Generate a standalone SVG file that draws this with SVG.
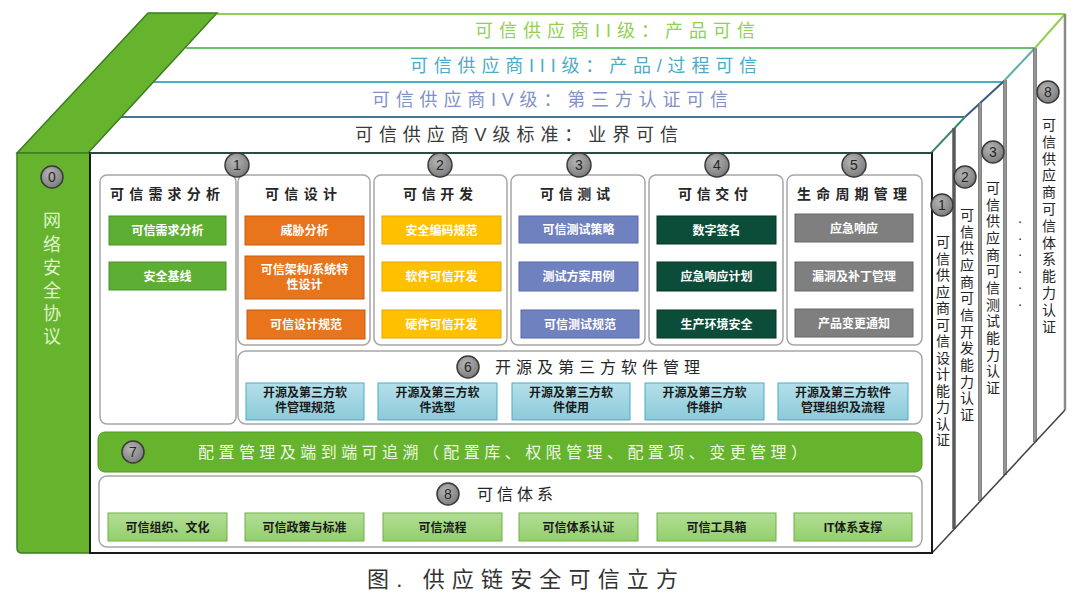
<svg xmlns="http://www.w3.org/2000/svg" width="1080" height="597" viewBox="0 0 1080 597">
<defs>
<style>
.f{font-family:"Liberation Sans","Noto Sans CJK SC",sans-serif}
.lay{font-size:18px;font-family:"Liberation Sans","Noto Sans CJK SC",sans-serif}
.ct{font-size:14px;font-weight:bold;fill:#262626;font-family:"Liberation Sans","Noto Sans CJK SC",sans-serif}
.bx{font-size:12px;font-weight:bold;fill:#ffffff;text-anchor:middle;font-family:"Liberation Sans","Noto Sans CJK SC",sans-serif}
.bd{font-size:12px;font-weight:bold;fill:#1a1a1a;text-anchor:middle;font-family:"Liberation Sans","Noto Sans CJK SC",sans-serif}
.vt{font-size:14px;fill:#262626;text-anchor:middle;font-family:"Liberation Sans","Noto Sans CJK SC",sans-serif}
.num{font-size:14px;fill:#262626;text-anchor:middle;font-family:"Liberation Sans","Noto Sans CJK SC",sans-serif}
.cir{fill:url(#cg);stroke:#3a3a3a;stroke-width:1.5}
.pan{fill:#ffffff;stroke:#a6a6a6;stroke-width:1.5}
.gA{fill:#5daf34;stroke:#4a9128;stroke-width:1}
.gB{fill:#e8741c;stroke:#c55a11;stroke-width:1}
.gC{fill:#ffc000;stroke:#e3a800;stroke-width:1}
.gD{fill:#7081c0;stroke:#5869a8;stroke-width:1}
.gE{fill:#0b4d38;stroke:#063524;stroke-width:1}
.gF{fill:#7f7f7f;stroke:#666666;stroke-width:1}
.g6{fill:url(#tg);stroke:#4bacc6;stroke-width:1}
.g8{fill:url(#lg);stroke:#70b047;stroke-width:1}
.div{stroke:#5a5a5a;stroke-width:3.5;fill:none}
.divi{stroke:#bdbdbd;stroke-width:1.2;fill:none}
</style>
<radialGradient id="cg" cx="0.4" cy="0.35" r="0.7">
<stop offset="0" stop-color="#b5b5b5"/>
<stop offset="1" stop-color="#7a7a7a"/>
</radialGradient>
<linearGradient id="tg" x1="0" y1="0" x2="0" y2="1">
<stop offset="0" stop-color="#b4e0ea"/>
<stop offset="1" stop-color="#8ccad9"/>
</linearGradient>
<linearGradient id="lg" x1="0" y1="0" x2="0" y2="1">
<stop offset="0" stop-color="#b2dd95"/>
<stop offset="1" stop-color="#93cf6d"/>
</linearGradient>
</defs>
<rect x="0" y="0" width="1080" height="597" fill="#ffffff"/>

<g id="connectors">
<!-- layer top edges -->
<line x1="217" y1="14" x2="1065" y2="14" stroke="#92d050" stroke-width="2"/>
<line x1="186" y1="48" x2="1035" y2="48" stroke="#6cc06a" stroke-width="2"/>
<line x1="153" y1="82" x2="1003" y2="82" stroke="#4bacc6" stroke-width="2"/>
<line x1="119" y1="117" x2="965" y2="117" stroke="#3f7890" stroke-width="2"/>
<!-- right slant -->
<line x1="1065" y1="14" x2="1035" y2="48" stroke="#92d050" stroke-width="2"/>
<line x1="1035" y1="48" x2="1003" y2="82" stroke="#5fb0a8" stroke-width="2"/>
<line x1="1003" y1="82" x2="965" y2="117" stroke="#3d5a86" stroke-width="2"/>
<line x1="965" y1="117" x2="931" y2="153" stroke="#3f8a6a" stroke-width="2"/>
<!-- right panel dividers -->
<line class="div" x1="954" y1="128" x2="954" y2="529"/>
<line class="div" x1="980" y1="103" x2="980" y2="501"/>
<line class="divi" x1="980" y1="103" x2="980" y2="501"/>
<line class="div" x1="1005" y1="80" x2="1005" y2="475"/>
<line class="divi" x1="1005" y1="80" x2="1005" y2="475"/>
<line class="div" x1="1035" y1="48" x2="1035" y2="442"/>
<line class="divi" x1="1035" y1="48" x2="1035" y2="442"/>
<line x1="1065" y1="14" x2="1065" y2="410" stroke="#8a8a8a" stroke-width="2.5"/>
<line x1="932" y1="553" x2="1065" y2="410" stroke="#404040" stroke-width="1.5"/>
</g>

<g id="layer2"><text class="lay" x="475" y="37" textLength="280" lengthAdjust="spacing" fill="#92d050">可信供应商II级：产品可信</text></g>
<g id="layer3"><text class="lay" x="410" y="72" textLength="347" lengthAdjust="spacing" fill="#4bacc6">可信供应商III级：产品/过程可信</text></g>
<g id="layer4"><text class="lay" x="372" y="106" textLength="356" lengthAdjust="spacing" fill="#8092c6">可信供应商IV级：第三方认证可信</text></g>
<g id="layer5"><text class="lay" x="355" y="141" textLength="323" lengthAdjust="spacing" fill="#3a3a3a">可信供应商V级标准：业界可信</text></g>

<g id="node0">
<polygon points="17,153 88,153 217,13 148,13" fill="#66b32e" stroke="#3c7d22" stroke-width="1.5"/>
<path d="M17,153 H90 V553 H22 Q17,553 17,548 Z" fill="#66b32e" stroke="#3c7d22" stroke-width="1.5"/>
<circle class="cir" cx="52" cy="177" r="11"/>
<text class="num" x="52" y="182">0</text>
<text class="f" font-size="18" fill="#dff3c8" text-anchor="middle">
<tspan x="52" y="227">网</tspan><tspan x="52" y="251">络</tspan><tspan x="52" y="274">安</tspan><tspan x="52" y="297">全</tspan><tspan x="52" y="320">协</tspan><tspan x="52" y="343">议</tspan>
</text>
</g>

<g id="frontbox">
<rect x="90" y="153" width="842" height="400" fill="#ffffff" stroke="#1a1a1a" stroke-width="2"/>
<line x1="90" y1="153" x2="932" y2="153" stroke="#2c4c3c" stroke-width="2"/>
</g>

<g id="colA">
<rect class="pan" x="100" y="175" width="136" height="249" rx="7"/>
<text class="ct" x="110" y="199" textLength="110" lengthAdjust="spacing">可信需求分析</text>
<rect class="gA" x="109" y="216" width="117" height="29"/><text class="bx" x="167.5" y="235">可信需求分析</text>
<rect class="gA" x="109" y="262" width="117" height="28"/><text class="bx" x="167.5" y="280.5">安全基线</text>
</g>

<g id="colB">
<rect class="pan" x="238" y="175" width="132" height="170" rx="7"/>
<text class="ct" x="265" y="199" textLength="72" lengthAdjust="spacing">可信设计</text>
<rect class="gB" x="245" y="216" width="119" height="29"/><text class="bx" x="304.5" y="235">威胁分析</text>
<rect class="gB" x="245" y="256" width="119" height="43"/><text class="bx" x="304.5" y="274">可信架构/系统特</text><text class="bx" x="304.5" y="289">性设计</text>
<rect class="gB" x="247" y="310" width="118" height="29"/><text class="bx" x="306" y="329">可信设计规范</text>
</g>

<g id="colC">
<rect class="pan" x="374" y="175" width="133" height="170" rx="7"/>
<text class="ct" x="403" y="199" textLength="70" lengthAdjust="spacing">可信开发</text>
<rect class="gC" x="382" y="216" width="119" height="28"/><text class="bx" x="441.5" y="234.5">安全编码规范</text>
<rect class="gC" x="382" y="262" width="119" height="29"/><text class="bx" x="441.5" y="281">软件可信开发</text>
<rect class="gC" x="382" y="310" width="119" height="28"/><text class="bx" x="441.5" y="328.5">硬件可信开发</text>
</g>

<g id="colD">
<rect class="pan" x="511" y="175" width="134" height="170" rx="7"/>
<text class="ct" x="540" y="199" textLength="70" lengthAdjust="spacing">可信测试</text>
<rect class="gD" x="519" y="216" width="119" height="27"/><text class="bx" x="578.5" y="234">可信测试策略</text>
<rect class="gD" x="519" y="262" width="119" height="29"/><text class="bx" x="578.5" y="281">测试方案用例</text>
<rect class="gD" x="521" y="310" width="118" height="28"/><text class="bx" x="580" y="328.5">可信测试规范</text>
</g>

<g id="colE">
<rect class="pan" x="649" y="175" width="134" height="170" rx="7"/>
<text class="ct" x="678" y="199" textLength="70" lengthAdjust="spacing">可信交付</text>
<rect class="gE" x="657" y="216" width="119" height="28"/><text class="bx" x="716.5" y="234.5">数字签名</text>
<rect class="gE" x="657" y="262" width="119" height="29"/><text class="bx" x="716.5" y="281">应急响应计划</text>
<rect class="gE" x="657" y="310" width="119" height="28"/><text class="bx" x="716.5" y="328.5">生产环境安全</text>
</g>

<g id="colF">
<rect class="pan" x="787" y="175" width="135" height="170" rx="7"/>
<text class="ct" x="797" y="199" textLength="110" lengthAdjust="spacing">生命周期管理</text>
<rect class="gF" x="795" y="214" width="118" height="28"/><text class="bx" x="854" y="232.5">应急响应</text>
<rect class="gF" x="795" y="262" width="118" height="29"/><text class="bx" x="854" y="281">漏洞及补丁管理</text>
<rect class="gF" x="795" y="309" width="118" height="28"/><text class="bx" x="854" y="327.5">产品变更通知</text>
</g>

<g id="badges">
<circle class="cir" cx="237" cy="165" r="12"/><text class="num" x="237" y="170">1</text>
<circle class="cir" cx="440" cy="165" r="12"/><text class="num" x="440" y="170">2</text>
<circle class="cir" cx="579" cy="165" r="12"/><text class="num" x="579" y="170">3</text>
<circle class="cir" cx="717" cy="165" r="12"/><text class="num" x="717" y="170">4</text>
<circle class="cir" cx="854" cy="165" r="12"/><text class="num" x="854" y="170">5</text>
</g>

<g id="row6">
<rect class="pan" x="238" y="351" width="684" height="73" rx="8"/>
<circle class="cir" cx="468" cy="367" r="11"/><text class="num" x="468" y="372">6</text>
<text class="f" x="495" y="373" font-size="16" fill="#262626" textLength="205" lengthAdjust="spacing">开源及第三方软件管理</text>
<rect class="g6" x="246" y="383" width="118" height="37"/><text class="bd" x="305" y="397">开源及第三方软</text><text class="bd" x="305" y="412">件管理规范</text>
<rect class="g6" x="378" y="383" width="119" height="37"/><text class="bd" x="437.5" y="397">开源及第三方软</text><text class="bd" x="437.5" y="412">件选型</text>
<rect class="g6" x="512" y="383" width="118" height="37"/><text class="bd" x="571" y="397">开源及第三方软</text><text class="bd" x="571" y="412">件使用</text>
<rect class="g6" x="645" y="383" width="119" height="37"/><text class="bd" x="704.5" y="397">开源及第三方软</text><text class="bd" x="704.5" y="412">件维护</text>
<rect class="g6" x="778" y="383" width="130" height="37"/><text class="bd" x="843" y="397">开源及第三方软件</text><text class="bd" x="843" y="412">管理组织及流程</text>
</g>

<g id="row7">
<rect x="98" y="432" width="824" height="40" rx="7" fill="#66b32e" stroke="#4e9a25" stroke-width="1"/>
<circle class="cir" cx="133" cy="452" r="11"/><text class="num" x="133" y="457">7</text>
<text class="f" x="198" y="458" font-size="16" fill="#edf7e4" textLength="609" lengthAdjust="spacing">配置管理及端到端可追溯（配置库、权限管理、配置项、变更管理）</text>
</g>

<g id="row8">
<rect class="pan" x="99" y="476" width="823" height="71" rx="8"/>
<circle class="cir" cx="448" cy="494" r="11"/><text class="num" x="448" y="499">8</text>
<text class="f" x="477" y="500" font-size="16" fill="#262626" textLength="76" lengthAdjust="spacing">可信体系</text>
<rect class="g8" x="108" y="513" width="119" height="28"/><text class="bd" x="167.5" y="531.5">可信组织、文化</text>
<rect class="g8" x="245" y="513" width="119" height="28"/><text class="bd" x="304.5" y="531.5">可信政策与标准</text>
<rect class="g8" x="383" y="513" width="119" height="28"/><text class="bd" x="442.5" y="531.5">可信流程</text>
<rect class="g8" x="519" y="513" width="119" height="28"/><text class="bd" x="578.5" y="531.5">可信体系认证</text>
<rect class="g8" x="657" y="513" width="119" height="28"/><text class="bd" x="716.5" y="531.5">可信工具箱</text>
<rect class="g8" x="794" y="513" width="118" height="28"/><text class="bd" x="853" y="531.5">IT体系支撑</text>
</g>

<g id="side1">
<circle class="cir" cx="942" cy="205" r="11"/><text class="num" x="942" y="210">1</text>
<text class="vt"><tspan x="943" y="247">可</tspan><tspan x="943" y="263.5">信</tspan><tspan x="943" y="280">供</tspan><tspan x="943" y="296.5">应</tspan><tspan x="943" y="313">商</tspan><tspan x="943" y="329.5">可</tspan><tspan x="943" y="346">信</tspan><tspan x="943" y="362.5">设</tspan><tspan x="943" y="379">计</tspan><tspan x="943" y="395.5">能</tspan><tspan x="943" y="412">力</tspan><tspan x="943" y="428.5">认</tspan><tspan x="943" y="445">证</tspan></text>
</g>
<g id="side2">
<circle class="cir" cx="965" cy="177" r="11"/><text class="num" x="965" y="182">2</text>
<text class="vt"><tspan x="967" y="220">可</tspan><tspan x="967" y="236.7">信</tspan><tspan x="967" y="253.4">供</tspan><tspan x="967" y="270">应</tspan><tspan x="967" y="286.7">商</tspan><tspan x="967" y="303.4">可</tspan><tspan x="967" y="320">信</tspan><tspan x="967" y="336.7">开</tspan><tspan x="967" y="353.4">发</tspan><tspan x="967" y="370">能</tspan><tspan x="967" y="386.7">力</tspan><tspan x="967" y="403.4">认</tspan><tspan x="967" y="420">证</tspan></text>
</g>
<g id="side3">
<circle class="cir" cx="993" cy="152" r="11"/><text class="num" x="993" y="157">3</text>
<text class="vt"><tspan x="993" y="193">可</tspan><tspan x="993" y="209.7">信</tspan><tspan x="993" y="226.4">供</tspan><tspan x="993" y="243">应</tspan><tspan x="993" y="259.7">商</tspan><tspan x="993" y="276.4">可</tspan><tspan x="993" y="293">信</tspan><tspan x="993" y="309.7">测</tspan><tspan x="993" y="326.4">试</tspan><tspan x="993" y="343">能</tspan><tspan x="993" y="359.7">力</tspan><tspan x="993" y="376.4">认</tspan><tspan x="993" y="393">证</tspan></text>
</g>
<g id="sideDots">
<text class="vt"><tspan x="1020" y="226">·</tspan><tspan x="1020" y="242.5">·</tspan><tspan x="1020" y="259">·</tspan><tspan x="1020" y="275.5">·</tspan><tspan x="1020" y="292">·</tspan><tspan x="1020" y="308.5">·</tspan></text>
</g>
<g id="side8">
<circle class="cir" cx="1048" cy="92" r="11"/><text class="num" x="1048" y="97">8</text>
<text class="vt"><tspan x="1049" y="130">可</tspan><tspan x="1049" y="146.8">信</tspan><tspan x="1049" y="163.6">供</tspan><tspan x="1049" y="180.4">应</tspan><tspan x="1049" y="197.2">商</tspan><tspan x="1049" y="214">可</tspan><tspan x="1049" y="230.8">信</tspan><tspan x="1049" y="247.6">体</tspan><tspan x="1049" y="264.4">系</tspan><tspan x="1049" y="281.2">能</tspan><tspan x="1049" y="298">力</tspan><tspan x="1049" y="314.8">认</tspan><tspan x="1049" y="331.6">证</tspan></text>
</g>

<g id="caption">
<text class="f" x="367" y="587" font-size="22" fill="#333333" textLength="311" lengthAdjust="spacing">图. 供应链安全可信立方</text>
</g>
</svg>
